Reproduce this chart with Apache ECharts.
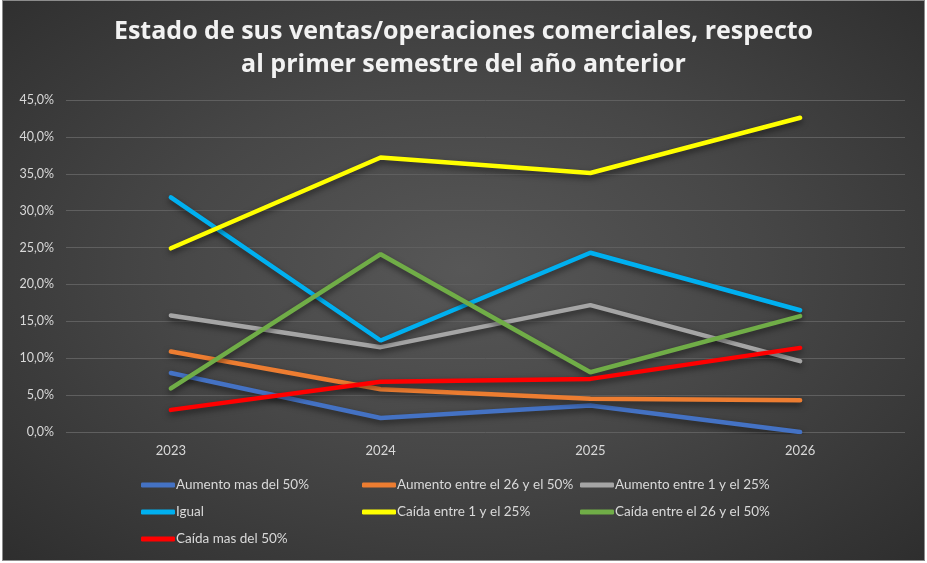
<!DOCTYPE html>
<html>
<head>
<meta charset="utf-8">
<title>Estado de sus ventas</title>
<script src="https://cdn.jsdelivr.net/npm/echarts@6/dist/echarts.min.js"></script>
<style>
  html, body { margin: 0; padding: 0; background: #ffffff; }
  #main { width: 923px; height: 561px; margin-left: 2px; border: 1px solid #8c8c8c; box-sizing: border-box;
    background: radial-gradient(ellipse at 50% 48%, #575757 0%, #474747 45%, #2e2e2e 100%); }
</style>
</head>
<body>
	<div id="main"></div>
	<script type="text/javascript">
		// datos
		var years = ['2023', '2024', '2025', '2026'];
		var seriesNames = ['Aumento mas del 50%', 'Aumento entre el 26 y el 50%', 'Aumento entre 1 y el 25%',
			'Igual', 'Caída entre 1 y el 25%', 'Caída entre el 26 y el 50%', 'Caída mas del 50%'];
		var aumentoMas50 = [8.0, 1.9, 3.6, 0.0];
		var aumento26a50 = [10.9, 5.8, 4.5, 4.3];
		var aumento1a25 = [15.8, 11.5, 17.2, 9.6];
		var igual = [31.8, 12.4, 24.3, 16.5];
		var caida1a25 = [24.9, 37.2, 35.1, 42.6];
		var caida26a50 = [5.9, 24.1, 8.1, 15.7];
		var caidaMas50 = [3.0, 6.8, 7.2, 11.4];
		var colors = ['#4472C4', '#ED7D31', '#A5A5A5', '#00B0F0', '#FFFF00', '#70AD47', '#FF0000'];

		var allData = [aumentoMas50, aumento26a50, aumento1a25, igual, caida1a25, caida26a50, caidaMas50];
		var font = 'Lato, "Liberation Sans", sans-serif';

		var myChart = echarts.init(document.getElementById('main'));

		var series = [];
		for (var i = 0; i < seriesNames.length; i++) {
			series.push({
				name: seriesNames[i],
				type: 'line',
				data: allData[i],
				symbol: 'none',
				z: 2 + i,
				lineStyle: {
					width: 4.5,
					color: colors[i],
					cap: 'round',
					shadowColor: 'rgba(0,0,0,0.55)',
					shadowBlur: 6,
					shadowOffsetY: 3
				},
				itemStyle: { color: colors[i] }
			});
		}

		var legendBase = {
			orient: 'vertical',
			top: 472,
			itemGap: 13,
			itemWidth: 34,
			itemHeight: 5,
			icon: 'roundRect',
			textStyle: { color: '#d9d9d9', fontSize: 13.5, fontFamily: font, padding: [0, 0, 0, -4] }
		};

		option = {
			color: colors,
			animation: false,
			title: {
				text: 'Estado de sus ventas/operaciones comerciales, respecto\nal primer semestre del año anterior',
				left: 'center',
				top: 9,
				textStyle: {
					color: '#f2f2f2',
					fontSize: 25,
					fontWeight: 'bold',
					fontFamily: '"Open Sans", Lato, sans-serif',
					lineHeight: 33
				}
			},
			legend: [
				Object.assign({}, legendBase, { left: 133, data: [seriesNames[0], seriesNames[3], seriesNames[6]] }),
				Object.assign({}, legendBase, { left: 354, data: [seriesNames[1], seriesNames[4]] }),
				Object.assign({}, legendBase, { left: 572, data: [seriesNames[2], seriesNames[5]] })
			],
			grid: {
				left: 63,
				right: 19,
				top: 99,
				bottom: 128
			},
			xAxis: {
				type: 'category',
				data: years,
				boundaryGap: true,
				axisLine: { show: false },
				axisTick: { show: false },
				axisLabel: { color: '#d9d9d9', fontSize: 13, fontFamily: font, margin: 12 }
			},
			yAxis: {
				type: 'value',
				min: 0,
				max: 45,
				interval: 5,
				axisLine: { show: false },
				axisTick: { show: false },
				splitLine: { lineStyle: { color: '#5f5f5f', width: 1 } },
				axisLabel: {
					color: '#d9d9d9',
					fontSize: 12.5,
					fontFamily: font,
					margin: 12,
					formatter: function (v) { return v.toFixed(1).replace('.', ',') + '%'; }
				}
			},
			series: series
		};
		myChart.setOption(option);
	</script>
</body>
</html>
